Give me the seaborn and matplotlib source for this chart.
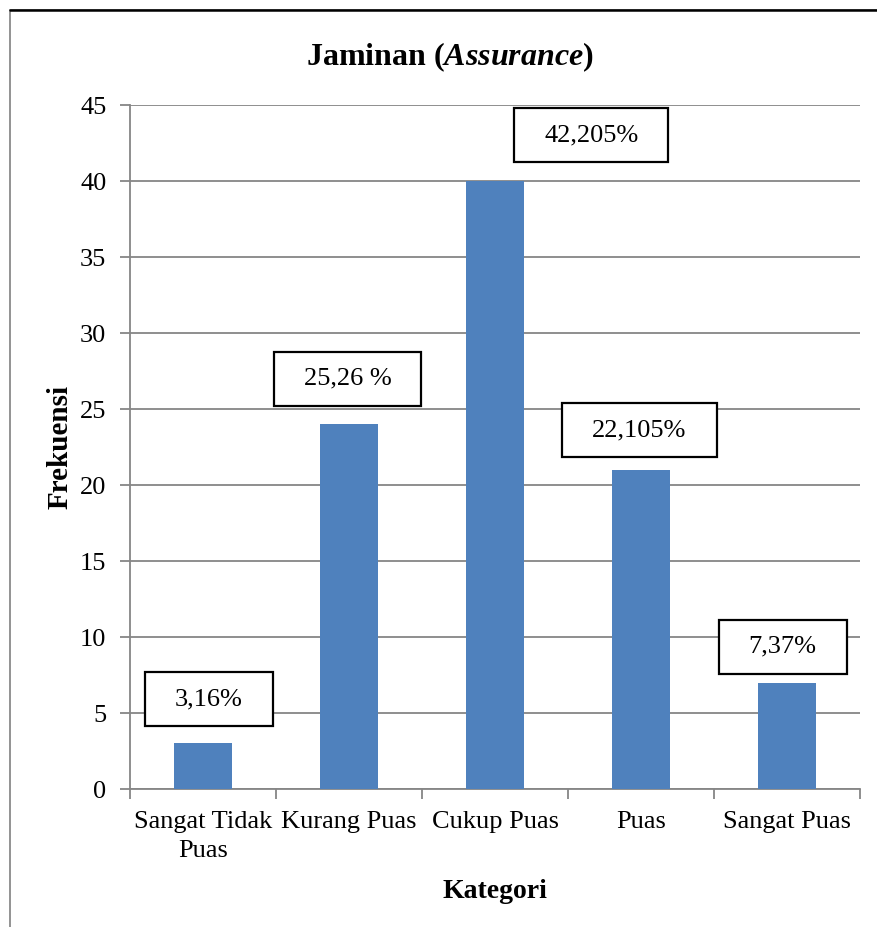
import matplotlib
matplotlib.use("Agg")
import matplotlib.pyplot as plt
import seaborn as sns
import pandas as pd
from matplotlib.patches import Rectangle
from matplotlib.ticker import FixedLocator

categories = ["Sangat Tidak\nPuas", "Kurang Puas", "Cukup Puas", "Puas", "Sangat Puas"]
frekuensi = [3, 24, 40, 21, 7]
label_texts = ["3,16%", "25,26 %", "42,205%", "22,105%", "7,37%"]
label_x = [0.04, -0.01, 0.66, -0.01, -0.03]
label_y = [5.9, 27.0, 43.0, 23.6, 9.35]

sns.set_theme(style="white")
plt.rcParams["font.family"] = ["Liberation Serif", "DejaVu Serif"]
plt.rcParams["text.color"] = "black"
plt.rcParams["axes.labelcolor"] = "black"
plt.rcParams["mathtext.fontset"] = "custom"
plt.rcParams["mathtext.rm"] = "Liberation Serif:bold"
plt.rcParams["mathtext.bf"] = "Liberation Serif:bold"
plt.rcParams["mathtext.it"] = "Liberation Serif:italic:bold"

df = pd.DataFrame({"Kategori": categories, "Frekuensi": frekuensi})

fig = plt.figure(figsize=(8.77, 9.27), dpi=100)
ax = fig.add_axes([130/877, 1-789/927, 730/877, 684/927])

sns.barplot(data=df, x="Kategori", y="Frekuensi", color="#4F81BD", saturation=1,
            width=0.4, ax=ax, zorder=3, linewidth=0)

ax.set_ylim(0, 45)
ax.set_xlim(-0.5, 4.5)
ax.set_yticks(range(0, 46, 5))
ax.yaxis.grid(True, color="#868686", linewidth=1.3, zorder=0)
ax.set_axisbelow(True)
for s in ["top", "right"]:
    ax.spines[s].set_visible(False)
for s in ["left", "bottom"]:
    ax.spines[s].set_color("#868686")
    ax.spines[s].set_linewidth(1.3)

ax.tick_params(axis="y", which="major", length=7, width=1.3, color="#868686",
               labelsize=19, pad=10, left=True, labelcolor="black")
ax.tick_params(axis="x", which="major", length=0, labelsize=19, pad=16, labelcolor="black")
ax.xaxis.set_minor_locator(FixedLocator([-0.5, 0.5, 1.5, 2.5, 3.5, 4.5]))
ax.tick_params(axis="x", which="minor", length=7, width=1.3, color="#868686", bottom=True)
for t in ax.get_xticklabels():
    t.set_linespacing(1.4)

ax.set_xlabel("Kategori", fontsize=20, fontweight="bold", labelpad=12)
ax.set_ylabel("Frekuensi", fontsize=21, fontweight="bold", labelpad=5)

texts = []
for i, (txt, dx, yy) in enumerate(zip(label_texts, label_x, label_y)):
    t = ax.text(i + dx, yy, txt, ha="center", va="center", fontsize=19, zorder=6)
    texts.append(t)

fig.canvas.draw()
renderer = fig.canvas.get_renderer()
inv = ax.transData.inverted()
for t in texts:
    bb = t.get_window_extent(renderer)
    cx = (bb.x0 + bb.x1) / 2
    cy = (bb.y0 + bb.y1) / 2
    w = bb.width + 60
    h = 54
    (x0, y0) = inv.transform((cx - w / 2, cy - h / 2))
    (x1, y1) = inv.transform((cx + w / 2, cy + h / 2))
    ax.add_patch(Rectangle((x0, y0), x1 - x0, y1 - y0, facecolor="white",
                           edgecolor="black", linewidth=1.6, zorder=5, clip_on=False))

fig.text(450/877, 1-57/927, r"Jaminan ($\mathit{Assurance}$)", ha="center", va="center",
         fontsize=23, fontweight="bold")

fig.patches.append(Rectangle((10/877, -0.1), 1.2, 1 - 10/927 + 0.1, transform=fig.transFigure,
                             fill=False, edgecolor="#808080", linewidth=1.2))
fig.lines.append(plt.Line2D([10/877, 1], [1-10/927, 1-10/927], transform=fig.transFigure,
                            color="black", linewidth=1.8))

fig.savefig("out.png", dpi=100, facecolor="white")
